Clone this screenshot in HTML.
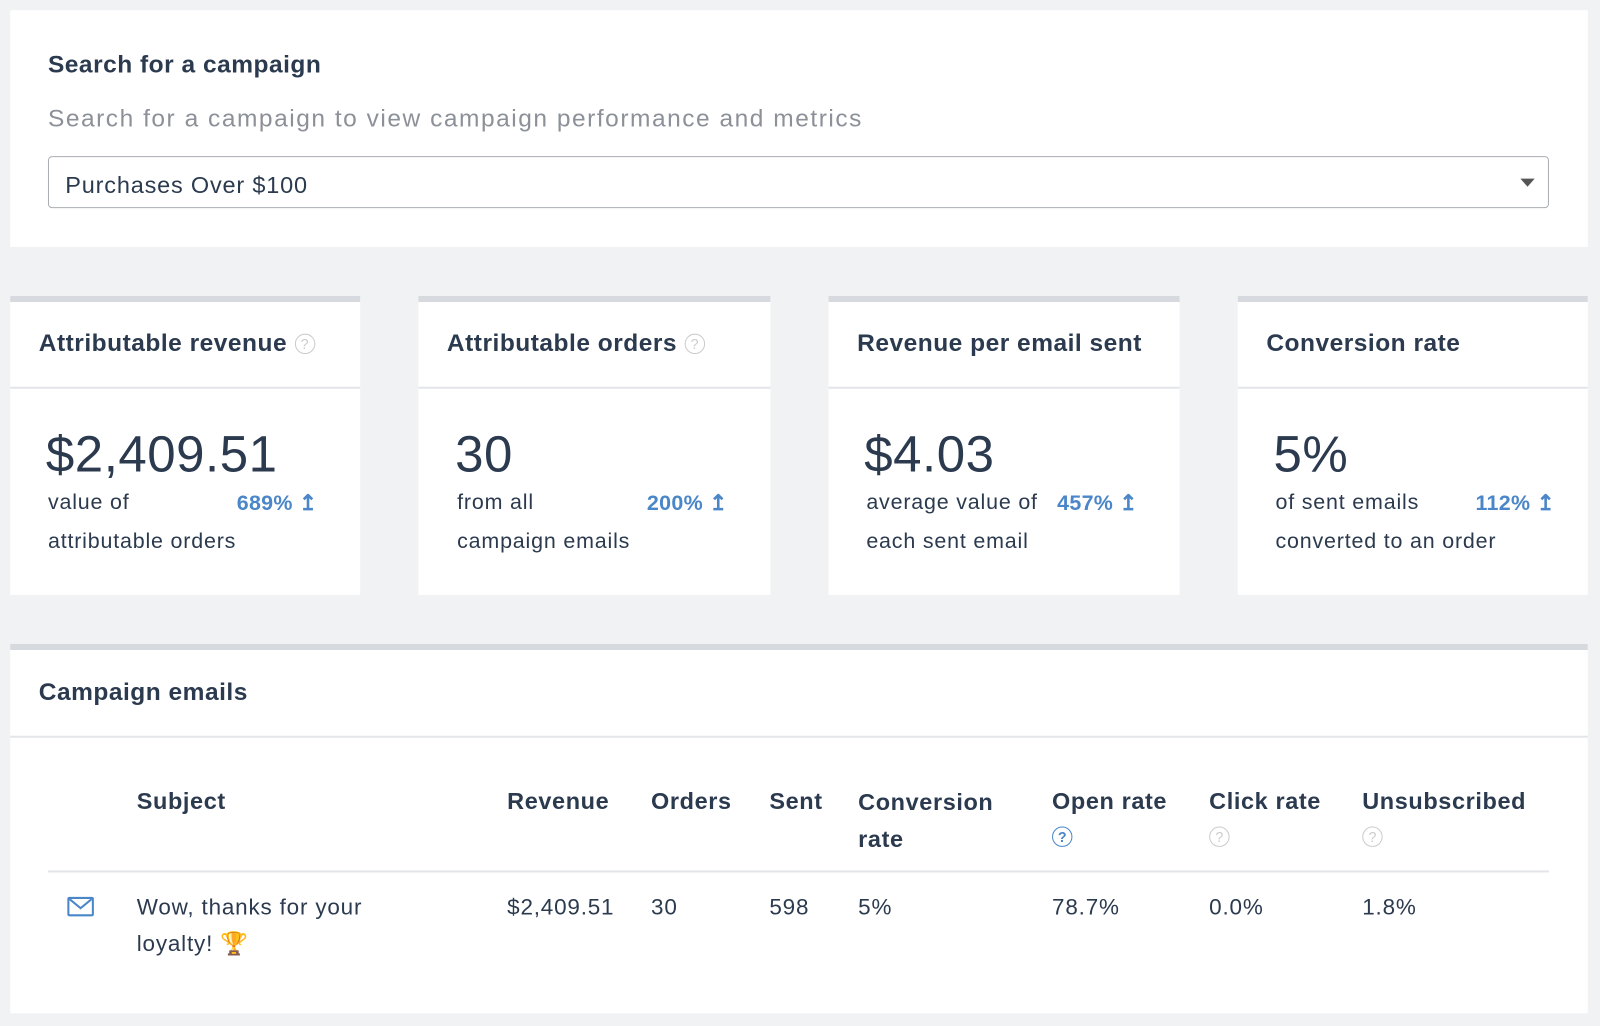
<!DOCTYPE html>
<html><head><meta charset="utf-8"><style>
html,body{margin:0;padding:0;width:1600px;height:1026px;overflow:hidden;background:#f1f2f4;}
#w{position:absolute;left:0;top:0;width:1568px;height:1005px;transform:scale(1.0204);transform-origin:0 0;font-family:"Liberation Sans",sans-serif;color:#2b3a4e;}
.a{position:absolute;white-space:nowrap;}
.card{position:absolute;background:#fff;}
.top{border-top:6px solid #d6d9dd;}
.t{font-size:24px;font-weight:bold;letter-spacing:0.5px;}
.big{font-size:50px;letter-spacing:0.5px;}
.s{font-size:21px;letter-spacing:0.8px;}
.p{font-size:21px;color:#4a86c8;font-weight:bold;letter-spacing:0.3px;}
.q{display:inline-block;width:18px;height:18px;border:1.5px solid #ccc;border-radius:50%;color:#ccc;font-size:14px;text-align:center;line-height:18px;font-weight:normal;vertical-align:2px;letter-spacing:0;}
.hl{position:absolute;height:2px;background:#e3e5e8;}
.th{font-size:23px;font-weight:bold;letter-spacing:0.6px;}
.td{font-size:22px;letter-spacing:0.8px;}
</style></head><body><div id="w">
<div class="card" style="left:10px;top:10px;width:1546px;height:232px;"></div>
<div class="a t" style="left:47px;top:50px;">Search for a campaign</div>
<div class="a" style="left:47px;top:103px;font-size:24px;letter-spacing:1.5px;color:#8c9098;">Search for a campaign to view campaign performance and metrics</div>
<div class="a" style="left:47px;top:153px;width:1469px;height:49px;border:1.5px solid #a9adb2;border-radius:4px;"></div>
<div class="a" style="left:64px;top:168px;font-size:23px;letter-spacing:0.8px;">Purchases Over $100</div>
<div class="a" style="left:1490px;top:175px;width:0;height:0;border-left:7px solid transparent;border-right:7px solid transparent;border-top:8px solid #555;"></div>

<div class="card top" style="left:10px;top:290px;width:343px;height:287px;"></div>
<div class="card top" style="left:410px;top:290px;width:345px;height:287px;"></div>
<div class="card top" style="left:812px;top:290px;width:344px;height:287px;"></div>
<div class="card top" style="left:1213px;top:290px;width:343px;height:287px;"></div>
<div class="hl" style="left:10px;top:379px;width:343px;"></div>
<div class="hl" style="left:410px;top:379px;width:345px;"></div>
<div class="hl" style="left:812px;top:379px;width:344px;"></div>
<div class="hl" style="left:1213px;top:379px;width:343px;"></div>

<div class="a t" style="left:38px;top:323px;">Attributable revenue <span class="q">?</span></div>
<div class="a t" style="left:438px;top:323px;">Attributable orders <span class="q">?</span></div>
<div class="a t" style="left:840px;top:323px;">Revenue per email sent</div>
<div class="a t" style="left:1241px;top:323px;">Conversion rate</div>

<div class="a big" style="left:45px;top:416px;">$2,409.51</div>
<div class="a big" style="left:446px;top:416px;">30</div>
<div class="a big" style="left:847px;top:416px;">$4.03</div>
<div class="a big" style="left:1248px;top:416px;">5%</div>

<div class="a s" style="left:47px;top:481px;">value of</div>
<div class="a s" style="left:47px;top:519px;">attributable orders</div>
<div class="a s" style="left:448px;top:481px;">from all</div>
<div class="a s" style="left:448px;top:519px;">campaign emails</div>
<div class="a s" style="left:849px;top:481px;">average value of</div>
<div class="a s" style="left:849px;top:519px;">each sent email</div>
<div class="a s" style="left:1250px;top:481px;">of sent emails</div>
<div class="a s" style="left:1250px;top:519px;">converted to an order</div>

<div class="a p" style="left:232px;top:481px;">689% &#x21A5;</div>
<div class="a p" style="left:634px;top:481px;">200% &#x21A5;</div>
<div class="a p" style="left:1036px;top:481px;">457% &#x21A5;</div>
<div class="a p" style="left:1446px;top:481px;">112% &#x21A5;</div>

<div class="card top" style="left:10px;top:631px;width:1546px;height:356px;"></div>
<div class="a t" style="left:38px;top:665px;">Campaign emails</div>
<div class="hl" style="left:10px;top:721px;width:1546px;"></div>

<div class="a th" style="left:134px;top:772px;">Subject</div>
<div class="a th" style="left:497px;top:772px;">Revenue</div>
<div class="a th" style="left:638px;top:772px;">Orders</div>
<div class="a th" style="left:754px;top:772px;">Sent</div>
<div class="a th" style="left:841px;top:768px;line-height:36px;">Conversion<br>rate</div>
<div class="a th" style="left:1031px;top:772px;">Open rate</div>
<div class="a th" style="left:1185px;top:772px;">Click rate</div>
<div class="a th" style="left:1335px;top:772px;">Unsubscribed</div>
<div class="a" style="left:1031px;top:810px;"><span class="q" style="border-color:#4a86c8;color:#4a86c8;font-weight:bold;">?</span></div>
<div class="a" style="left:1185px;top:810px;"><span class="q">?</span></div>
<div class="a" style="left:1335px;top:810px;"><span class="q">?</span></div>
<div class="hl" style="left:47px;top:853px;width:1471px;"></div>

<div class="a" style="left:66px;top:879px;width:26px;height:19px;border:2px solid #4a86c8;border-radius:2px;box-sizing:border-box;overflow:hidden;">
<svg width="26" height="19" style="position:absolute;left:-2px;top:-2px"><path d="M2 2 L13 11 L24 2" stroke="#4a86c8" stroke-width="2" fill="none"/></svg></div>
<div class="a td" style="left:134px;top:871px;line-height:36px;">Wow, thanks for your<br>loyalty! <span style="color:#c9a227">&#x1F3C6;</span></div>
<div class="a td" style="left:497px;top:876px;">$2,409.51</div>
<div class="a td" style="left:638px;top:876px;">30</div>
<div class="a td" style="left:754px;top:876px;">598</div>
<div class="a td" style="left:841px;top:876px;">5%</div>
<div class="a td" style="left:1031px;top:876px;">78.7%</div>
<div class="a td" style="left:1185px;top:876px;">0.0%</div>
<div class="a td" style="left:1335px;top:876px;">1.8%</div>
</div></body></html>
